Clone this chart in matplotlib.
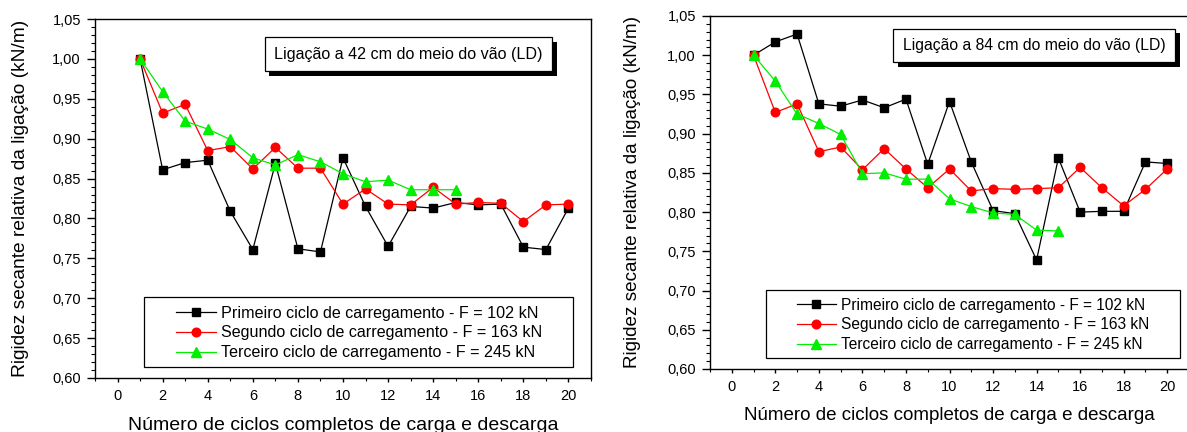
import matplotlib
matplotlib.use("Agg")
import matplotlib.pyplot as plt
import matplotlib.patheffects as pe
from matplotlib.patches import Rectangle
from matplotlib.ticker import MultipleLocator, FuncFormatter
import numpy as np

plt.rcParams['font.family'] = ['Liberation Sans', 'DejaVu Sans']

# ciclos
ciclos = list(range(1, 21))
ciclos_t = list(range(1, 16))

# ligacao a 42 cm
p42 = [1.000, 0.861, 0.870, 0.873, 0.809, 0.761, 0.869, 0.762, 0.758, 0.876,
       0.815, 0.765, 0.815, 0.813, 0.820, 0.817, 0.818, 0.764, 0.761, 0.813]
s42 = [1.000, 0.932, 0.943, 0.885, 0.890, 0.862, 0.889, 0.863, 0.863, 0.818,
       0.837, 0.818, 0.817, 0.839, 0.818, 0.820, 0.819, 0.796, 0.817, 0.818]
t42 = [1.000, 0.959, 0.922, 0.912, 0.899, 0.876, 0.867, 0.880, 0.871, 0.856,
       0.846, 0.848, 0.836, 0.836, 0.836]

# ligacao a 84 cm
p84 = [1.000, 1.017, 1.027, 0.938, 0.935, 0.943, 0.933, 0.944, 0.861, 0.941,
       0.864, 0.802, 0.798, 0.739, 0.869, 0.800, 0.801, 0.801, 0.864, 0.862]
s84 = [1.000, 0.927, 0.938, 0.877, 0.883, 0.854, 0.881, 0.855, 0.831, 0.855,
       0.827, 0.830, 0.829, 0.830, 0.831, 0.857, 0.831, 0.808, 0.829, 0.855]
t84 = [1.000, 0.967, 0.925, 0.913, 0.899, 0.849, 0.850, 0.842, 0.842, 0.817,
       0.807, 0.799, 0.797, 0.777, 0.776]

rotulos = ["Primeiro ciclo de carregamento - F = 102 kN",
           "Segundo ciclo de carregamento - F = 163 kN",
           "Terceiro ciclo de carregamento - F = 245 kN"]
titulos = ["Ligação a 42 cm do meio do vão (LD)",
           "Ligação a 84 cm do meio do vão (LD)"]

W, H = 1187, 432
fig = plt.figure(figsize=(W / 100, H / 100), dpi=100)


def rect(x0, y0, x1, y1):
    return [x0 / W, 1 - y1 / H, (x1 - x0) / W, (y1 - y0) / H]


def virgula(v, pos):
    return ("%.2f" % v).replace(".", ",")


def painel(ax, p, s, t, titulo, fs, cfg):
    ax.plot(ciclos, p, color='black', lw=0.9, marker='s', ms=5.5, label=rotulos[0])
    ax.plot(ciclos, s, color='red', lw=0.9, marker='o', ms=6.2, label=rotulos[1])
    ax.plot(ciclos_t, t, color='#00ee00', lw=0.9, marker='^', ms=7.0, label=rotulos[2])
    ax.set_xlim(-1, 21)
    ax.set_ylim(0.60, 1.05)
    ax.xaxis.set_major_locator(MultipleLocator(2))
    ax.xaxis.set_minor_locator(MultipleLocator(1))
    ax.yaxis.set_major_locator(MultipleLocator(0.05))
    ax.yaxis.set_minor_locator(MultipleLocator(0.01))
    ax.yaxis.set_major_formatter(FuncFormatter(virgula))
    ax.tick_params(axis='x', which='major', direction='out', length=3, width=1, labelsize=10.5, pad=5)
    ax.tick_params(axis='x', which='minor', direction='out', length=2.2, width=0.8)
    ax.tick_params(axis='y', which='major', direction='out', length=5.8, width=1, labelsize=10.5, pad=4.3)
    ax.tick_params(axis='y', which='minor', direction='out', length=3, width=0.8)
    for sp in ax.spines.values():
        sp.set_linewidth(1)
    ax.set_xlabel("Número de ciclos completos de carga e descarga", fontsize=fs['lab'])
    ax.set_ylabel("Rigidez secante relativa da ligação (kN/m)", fontsize=fs['ylab'])
    ax.xaxis.set_label_coords(0.5, cfg['xlab'])
    ax.yaxis.set_label_coords(cfg['ylab'], 0.5)

    # legenda sem moldura + moldura desenhada a parte
    ax.legend(loc='center left', bbox_to_anchor=cfg['leg'], borderaxespad=0, borderpad=0,
              frameon=False, fontsize=fs['leg'], handlelength=2.5, handletextpad=0.3,
              labelspacing=0.3)
    x0, y0, x1, y1 = cfg['legbox']
    ax.add_patch(Rectangle((x0, y0), x1 - x0, y1 - y0, transform=ax.transAxes,
                           fc='white', ec='black', lw=0.9, zorder=4.5))

    txt = ax.text(cfg['box'][0], cfg['box'][1], titulo, transform=ax.transAxes,
                  ha='center', va='center', fontsize=fs['box'], zorder=6,
                  bbox=dict(boxstyle='square,pad=0.6', fc='white', ec='black', lw=0.9))
    txt.get_bbox_patch().set_path_effects([
        pe.SimplePatchShadow(offset=(3.5, -3.5), shadow_rgbFace='black', alpha=1), pe.Normal()])


def fx(px, a0, a1):
    return (px - a0) / (a1 - a0)


def fy(py, top, bot):
    return (bot - py) / (bot - top)


# painel esquerdo: eixos de 95..591 x 19..378 px
ax1 = fig.add_axes(rect(95, 19, 591, 378))
painel(ax1, p42, s42, t42, titulos[0],
       dict(lab=14, ylab=13.8, leg=11.6, box=11.6),
       dict(xlab=fy(417, 19, 378), ylab=fx(29, 95, 591),
            leg=(fx(176, 95, 591), fy(333, 19, 378)),
            legbox=(fx(144, 95, 591), fy(367, 19, 378), fx(573, 95, 591), fy(297, 19, 378)),
            box=(fx(408.5, 95, 591), fy(54, 19, 378))))

# painel direito: eixos de 710..1189 x 16..369 px
ax2 = fig.add_axes(rect(710, 16, 1189, 369))
painel(ax2, p84, s84, t84, titulos[1],
       dict(lab=13.5, ylab=13.6, leg=11.2, box=11.3),
       dict(xlab=fy(407, 16, 369), ylab=fx(641, 710, 1189),
            leg=(fx(797, 710, 1189), fy(325, 16, 369)),
            legbox=(fx(766, 710, 1189), fy(358, 16, 369), fx(1180, 710, 1189), fy(290, 16, 369)),
            box=(fx(1034, 710, 1189), fy(45.5, 16, 369))))

fig.savefig("out.png", dpi=100)
